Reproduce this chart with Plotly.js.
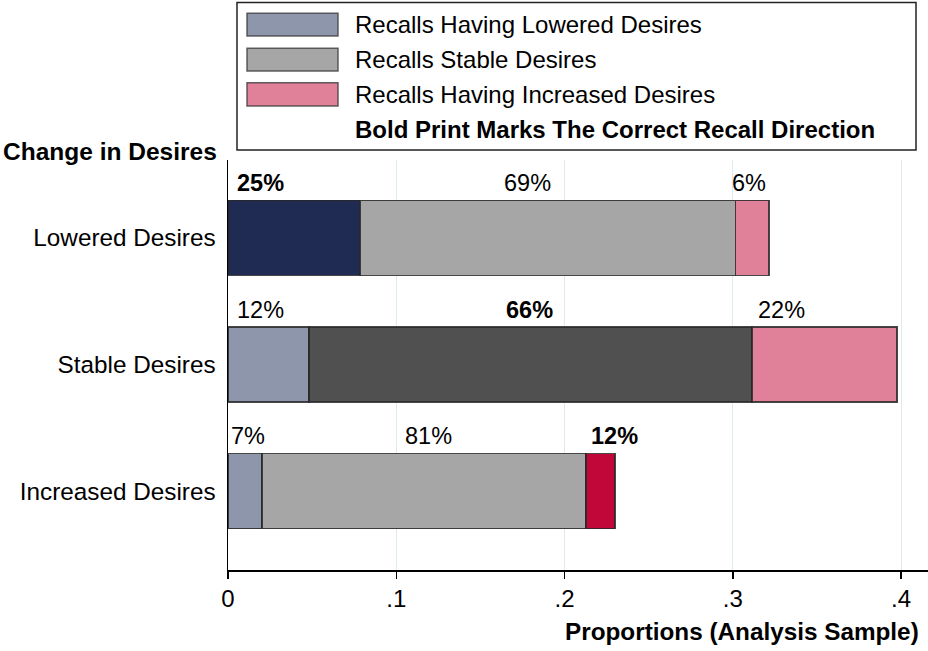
<!DOCTYPE html>
<html>
<head>
<meta charset="utf-8">
<script src="https://cdn.plot.ly/plotly-3.0.1.min.js"></script>
<style>html,body{margin:0;padding:0;background:#fff;}#chart{width:928px;height:651px;}</style>
</head>
<body>
<div id="chart"></div>
<script>
// ---- data ----
var categories = ["Lowered Desires", "Stable Desires", "Increased Desires"];
var seriesNames = ["Recalls Having Lowered Desires", "Recalls Stable Desires", "Recalls Having Increased Desires"];
// proportions of analysis sample, per actual change category
var recallLowered   = [0.0785, 0.0481, 0.0202];
var recallStable    = [0.2230, 0.2633, 0.1925];
var recallIncreased = [0.0200, 0.0862, 0.0173];
// row shares shown above the segments
var pctLowered   = ["25%", "12%", "7%"];
var pctStable    = ["69%", "66%", "81%"];
var pctIncreased = ["6%", "22%", "12%"];
var xTickVals  = [0, 0.1, 0.2, 0.3, 0.4];
var xTickText  = ["0", ".1", ".2", ".3", ".4"];

// ---- styles ----
var FONT = "'Liberation Sans', Arial, sans-serif";
var lightColors = ["#8e96ab", "#a6a6a6", "#e08199"];
var darkColors  = ["#1f2b52", "#505050", "#c1063a"];
var series = [recallLowered, recallStable, recallIncreased];
var pcts = [pctLowered, pctStable, pctIncreased];
// pixel nudges of the labels relative to segment middles
var labelShift = [[-34, -20, -3], [-8, -1, -43], [3, 5, 14]];
var TXT = 24;

var W = 928, H = 651, mL = 228, mR = 0, mT = 160, mB = 81;
var pw = W - mL - mR, ph = H - mT - mB;
function px(x) { return (x - mL) / pw; }
function py(y) { return (H - mB - y) / ph; }

var traces = series.map(function (vals, s) {
  return {
    type: "bar", orientation: "h",
    name: seriesNames[s],
    y: categories, x: vals,
    width: 0.592,
    marker: {
      color: categories.map(function (c, i) { return i === s ? darkColors[s] : lightColors[s]; }),
      line: { color: "rgba(40,40,40,0.85)", width: 1.5 }
    },
    showlegend: false, hoverinfo: "x+name"
  };
});

var annotations = [];
categories.forEach(function (c, i) {
  var cum = 0;
  series.forEach(function (vals, s) {
    var mid = cum + vals[i] / 2;
    cum += vals[i];
    var txt = pcts[s][i];
    annotations.push({
      x: mid, y: c, xref: "x", yref: "y",
      text: (s === i ? "<b>" + txt + "</b>" : txt),
      showarrow: false, xanchor: "center", yanchor: "middle",
      xshift: labelShift[i][s], yshift: 55,
      font: { family: FONT, size: 23.5, color: "#000" }
    });
  });
});

// legend text
var rowCenters = [24.7, 59.7, 94.3];
seriesNames.forEach(function (n, s) {
  annotations.push({
    xref: "paper", yref: "paper", x: px(353), y: py(rowCenters[s]),
    xanchor: "left", yanchor: "middle", showarrow: false,
    text: n, font: { family: FONT, size: TXT, color: "#000" }
  });
});
annotations.push({
  xref: "paper", yref: "paper", x: px(353), y: py(130),
  xanchor: "left", yanchor: "middle", showarrow: false,
  text: "<b>Bold Print Marks The Correct Recall Direction</b>",
  font: { family: FONT, size: TXT, color: "#000" }
});
// axis titles
annotations.push({
  xref: "paper", yref: "paper", x: px(1), y: py(151),
  xanchor: "left", yanchor: "middle", showarrow: false,
  text: "<b>Change in Desires</b>", font: { family: FONT, size: 24.5, color: "#000" }
});
annotations.push({
  xref: "paper", yref: "paper", x: px(921), y: py(631),
  xanchor: "right", yanchor: "middle", showarrow: false,
  text: "<b>Proportions (Analysis Sample)</b>", font: { family: FONT, size: 24.3, color: "#000" }
});

var shapes = [{
  type: "rect", xref: "paper", yref: "paper",
  x0: px(237), x1: px(916), y0: py(150), y1: py(2.5),
  line: { color: "#222", width: 1.5 }, fillcolor: "rgba(0,0,0,0)"
}];
var swatchRows = [[13.3, 36], [48.3, 71], [82.7, 106]];
swatchRows.forEach(function (r, s) {
  shapes.push({
    type: "rect", xref: "paper", yref: "paper",
    x0: px(247), x1: px(338), y0: py(r[1]), y1: py(r[0]),
    line: { color: "rgba(60,60,60,0.8)", width: 1.5 }, fillcolor: lightColors[s]
  });
});

var layout = {
  width: W, height: H,
  margin: { l: mL, r: mR, t: mT, b: mB, pad: 0 },
  paper_bgcolor: "#fff", plot_bgcolor: "#fff",
  barmode: "stack",
  font: { family: FONT, size: TXT, color: "#000" },
  xaxis: {
    range: [0, (W - mR - mL) / 1682.5],
    tickvals: xTickVals, ticktext: xTickText,
    showgrid: true, gridcolor: "#dfeaee", gridwidth: 1,
    zeroline: false, showline: true, linecolor: "#000", linewidth: 1.5,
    ticks: "outside", ticklen: 7, tickwidth: 1.5, tickcolor: "#000",
    tickfont: { family: FONT, size: TXT, color: "#000" },
    fixedrange: true
  },
  yaxis: {
    type: "category", categoryarray: categories,
    range: [2.622, -0.615],
    showgrid: false, zeroline: false,
    showline: true, linecolor: "#000", linewidth: 1.5,
    ticks: "", ticklabelstandoff: 6,
    tickfont: { family: FONT, size: 24.3, color: "#000" },
    fixedrange: true
  },
  annotations: annotations,
  shapes: shapes,
  showlegend: false
};

Plotly.newPlot("chart", traces, layout, { displayModeBar: false, staticPlot: true });
</script>
</body>
</html>
